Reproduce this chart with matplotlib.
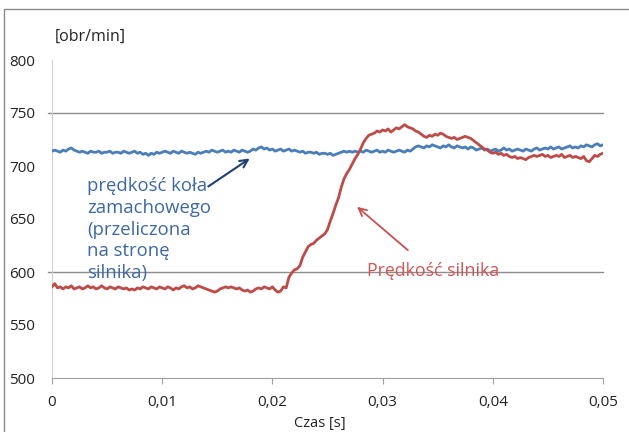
import numpy as np
import matplotlib
matplotlib.use('Agg')
import matplotlib.pyplot as plt
from matplotlib.patches import Rectangle

plt.rcParams['font.family'] = ['Open Sans', 'DejaVu Sans']

# speed of the flywheel (recalculated to motor side), rpm
flywheel = [714, 715, 714, 713, 715, 714, 716, 717, 715, 714,
            713, 714, 713, 712, 714, 713, 713, 714, 712, 713,
            713, 714, 712, 713, 713, 712, 714, 713, 712, 713,
            714, 712, 713, 711, 712, 710, 712, 711, 713, 712,
            713, 714, 713, 712, 714, 713, 712, 714, 713, 712,
            713, 712, 711, 713, 712, 713, 714, 713, 715, 714,
            713, 714, 715, 713, 714, 713, 715, 714, 713, 715,
            714, 713, 714, 716, 715, 717, 718, 716, 717, 715,
            716, 714, 715, 716, 714, 715, 716, 714, 715, 714,
            713, 714, 712, 713, 713, 712, 713, 711, 712, 712,
            711, 712, 710, 711, 712, 713, 714, 713, 714, 713,
            714, 713, 714, 713, 715, 714, 713, 714, 715, 713,
            714, 713, 715, 714, 713, 714, 715, 714, 713, 715,
            714, 716, 718, 719, 718, 717, 719, 718, 720, 719,
            718, 717, 719, 718, 720, 718, 717, 719, 718, 717,
            718, 716, 718, 717, 715, 716, 717, 715, 716, 714,
            715, 716, 714, 715, 717, 715, 716, 714, 715, 716,
            715, 714, 716, 715, 714, 716, 717, 715, 716, 717,
            716, 718, 716, 717, 718, 716, 717, 718, 719, 717,
            718, 717, 719, 718, 720, 719, 718, 720, 721, 719,
            720]

# motor speed, rpm
motor = [586, 589, 585, 586, 584, 586, 585, 587, 584, 585,
         586, 584, 585, 587, 585, 586, 584, 585, 587, 585,
         584, 586, 585, 584, 586, 585, 584, 585, 583, 584,
         583, 585, 584, 586, 585, 584, 586, 585, 584, 586,
         585, 584, 586, 585, 583, 585, 584, 586, 587, 585,
         586, 584, 585, 587, 586, 585, 584, 583, 582, 581,
         582, 584, 585, 586, 585, 586, 585, 584, 585, 583,
         582, 583, 581, 582, 584, 585, 584, 586, 585, 584,
         586, 583, 581, 582, 586, 585, 595, 599, 602, 603,
         606, 614, 619, 624, 626, 627, 630, 632, 634, 636,
         640, 648, 655, 663, 670, 680, 688, 693, 697, 702,
         707, 711, 716, 722, 726, 729, 730, 731, 733, 732,
         734, 733, 735, 732, 734, 736, 735, 737, 739, 737,
         736, 735, 733, 732, 730, 728, 727, 729, 728, 730,
         729, 731, 730, 728, 727, 726, 727, 725, 726, 727,
         728, 727, 726, 724, 722, 720, 718, 716, 715, 713,
         712, 713, 711, 712, 710, 711, 709, 708, 709, 707,
         708, 707, 706, 708, 709, 710, 709, 710, 711, 709,
         710, 708, 709, 710, 709, 711, 708, 709, 710, 708,
         709, 708, 707, 709, 705, 704, 707, 710, 709, 711,
         712]

time = np.linspace(0, 0.05, len(motor))
xticks = [0, 0.01, 0.02, 0.03, 0.04, 0.05]
xticklabels = ['0', '0,01', '0,02', '0,03', '0,04', '0,05']
yticks = [500, 550, 600, 650, 700, 750, 800]

W, H = 629, 432
fig = plt.figure(figsize=(W/100, H/100), dpi=100)
ax = fig.add_axes([52/W, 1-378/H, 551/W, 318/H])

# outer frame of the chart area (cut by the picture edge)
fig.patches.append(Rectangle((4/W, -0.1), 1.2, 1.1-9/H, transform=fig.transFigure,
                             fill=False, edgecolor='#8a8a8a', lw=1.0))

ax.plot(time, flywheel, color='#4a7ebb', lw=2.0, zorder=3)
ax.plot(time, motor, color='#be4b48', lw=2.0, zorder=4)

ax.set_xlim(0, 0.05)
ax.set_ylim(500, 800)
for yv in [600, 750]:
    ax.axhline(yv, xmin=-4/551, xmax=1, color='#8c8c8c', lw=1.0, clip_on=False, zorder=1)

ax.set_xticks(xticks)
ax.set_xticklabels(xticklabels)
ax.set_yticks(yticks)
ax.tick_params(axis='x', length=4, color='#a0a0a0', pad=8, labelsize=11, labelcolor='#222222')
ax.tick_params(axis='y', length=0, pad=12, labelsize=11, labelcolor='#222222')
for s in ['top', 'right']:
    ax.spines[s].set_visible(False)
ax.spines['left'].set_color('#d0d0d0')
ax.spines['bottom'].set_color('#a0a0a0')

fig.text(55/W, 1-37/H, '[obr/min]', fontsize=11.5, va='center', ha='left', color='#222222')
fig.text(320/W, 1-424/H, 'Czas [s]', fontsize=10.5, va='center', ha='center', color='#222222')

# annotations
def px2data(px, py):
    return ((px-52)/551*0.05, 800-(py-60)/1.06)

ax.text(*px2data(87, 177), 'prędkość koła\nzamachowego\n(przeliczona\nna stronę\nsilnika)',
        fontsize=13.3, color='#3c68a8', va='top', ha='left', linespacing=1.27)
ax.annotate('', xy=px2data(252, 157), xytext=px2data(206, 188),
            arrowprops=dict(arrowstyle='->', color='#1f3f72', lw=1.5, mutation_scale=14))

ax.text(*px2data(367, 271), 'Prędkość silnika', fontsize=12.8, color='#d05555',
        va='center', ha='left')
ax.annotate('', xy=px2data(355, 205), xytext=px2data(410, 252),
            arrowprops=dict(arrowstyle='->', color='#c85050', lw=1.3, mutation_scale=14))

fig.savefig('out.png', dpi=100)
